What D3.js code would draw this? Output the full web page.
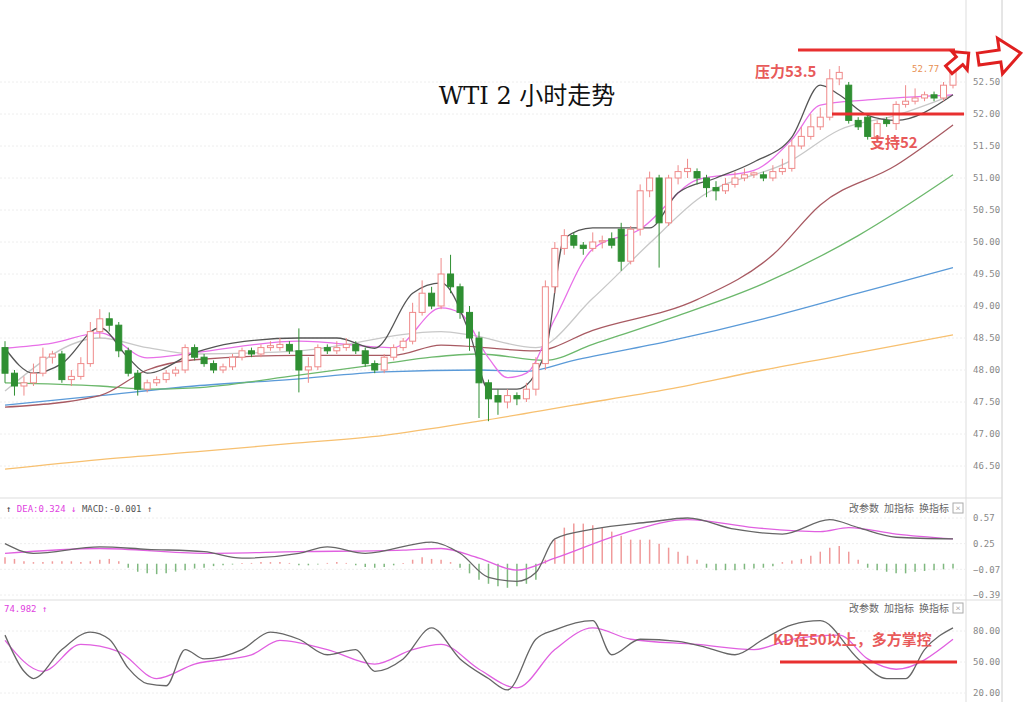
<!DOCTYPE html>
<html><head><meta charset="utf-8">
<script src="https://cdn.jsdelivr.net/npm/d3@7/dist/d3.min.js"></script>
<style>body{margin:0;background:#fff}svg{display:block}</style></head>
<body><svg id="c" width="1024" height="702"></svg>
<script>
// candles [open, high, low, close]
const candles=[[48.35,48.45,47.8,47.95],[47.95,48.0,47.6,47.75],[47.75,47.9,47.6,47.8],[47.8,48.1,47.75,47.95],[47.95,48.35,47.9,48.2],[48.2,48.3,48.1,48.25],[48.25,48.3,47.8,47.85],[47.85,48.0,47.75,47.9],[47.9,48.2,47.85,48.1],[48.1,48.75,48.05,48.6],
[48.6,48.95,48.5,48.8],[48.8,48.9,48.6,48.7],[48.7,48.75,48.2,48.3],[48.3,48.35,47.9,47.95],[47.95,48.0,47.6,47.7],[47.7,47.85,47.65,47.8],[47.8,47.9,47.75,47.85],[47.85,48.0,47.8,47.95],[47.95,48.05,47.9,48.0],[48.0,48.4,47.95,48.35],
[48.35,48.4,48.15,48.2],[48.2,48.25,48.05,48.1],[48.1,48.15,47.95,48.0],[48.0,48.1,47.95,48.05],[48.05,48.25,48.0,48.2],[48.2,48.35,48.15,48.3],[48.3,48.35,48.2,48.25],[48.25,48.4,48.2,48.35],[48.35,48.45,48.3,48.38],[48.35,48.5,48.3,48.4],
[48.4,48.45,48.25,48.3],[48.3,48.65,47.65,48.0],[48.0,48.2,47.8,48.05],[48.05,48.4,48.0,48.35],[48.35,48.4,48.25,48.3],[48.3,48.45,48.25,48.35],[48.35,48.5,48.3,48.4],[48.4,48.45,48.25,48.3],[48.3,48.35,48.05,48.1],[48.1,48.15,47.95,48.0],
[48.0,48.25,47.95,48.2],[48.2,48.4,48.15,48.35],[48.35,48.5,48.3,48.45],[48.45,49.05,48.4,48.9],[48.9,49.4,48.85,49.2],[49.2,49.3,48.95,49.0],[49.0,49.75,48.95,49.5],[49.5,49.8,49.2,49.3],[49.3,49.35,48.8,48.9],[48.9,49.0,48.3,48.5],
[48.5,48.6,47.25,47.8],[47.8,47.85,47.2,47.55],[47.6,47.7,47.3,47.5],[47.5,47.7,47.4,47.6],[47.6,47.65,47.45,47.55],[47.55,47.8,47.5,47.7],[47.7,48.2,47.6,48.1],[48.1,49.4,48.0,49.3],[49.3,50.0,49.2,49.9],[49.9,50.2,49.8,50.1],
[50.1,50.15,49.9,49.95],[49.95,50.0,49.8,49.9],[49.9,50.15,49.85,50.0],[50.0,50.1,49.9,50.02],[50.05,50.15,49.9,49.95],[50.2,50.3,49.55,49.7],[49.7,50.25,49.65,50.2],[50.2,50.9,50.1,50.8],[50.8,51.1,50.7,51.0],[51.0,51.05,49.6,50.3],
[50.3,51.05,50.25,51.0],[51.0,51.2,50.9,51.1],[51.1,51.3,51.0,51.15],[51.1,51.15,50.9,51.0],[51.0,51.05,50.7,50.85],[50.85,50.95,50.65,50.8],[50.8,51.0,50.75,50.9],[50.9,51.1,50.85,51.0],[51.0,51.15,50.95,51.05],[51.05,51.1,51.0,51.08],
[51.05,51.1,50.95,51.0],[51.0,51.2,50.95,51.1],[51.1,51.3,51.05,51.15],[51.15,51.6,51.1,51.5],[51.5,51.8,51.45,51.65],[51.65,52.0,51.6,51.8],[51.8,52.1,51.75,51.95],[51.95,52.7,51.9,52.55],[52.55,52.75,52.45,52.65],[52.45,52.5,51.85,51.9],
[51.9,51.95,51.75,51.8],[51.95,52.0,51.6,51.65],[51.65,51.9,51.6,51.85],[51.9,51.95,51.8,51.85],[51.85,52.2,51.75,52.15],[52.15,52.45,52.1,52.2],[52.2,52.4,52.15,52.25],[52.25,52.35,52.2,52.3],[52.3,52.35,52.2,52.25],[52.25,52.5,52.2,52.45],
[52.45,52.8,52.4,52.75]];
// moving averages [candle index, price]
const maBlack=[[0,48.34],[3,47.95],[6,48.1],[10,48.66],[13,48.19],[15,47.95],[20,48.27],[24,48.42],[31,48.5],[35,48.5],[39,48.34],[43,49.2],[46,49.36],[49,48.58],[51,47.7],[54,47.7],[57,48.27],[59,50.06],[62,50.22],[68,50.22],[71,50.77],[75,51.0],[79,51.25],[83,51.64],[86,52.45],[88,52.3],[91,51.98],[94,51.9],[100,52.3]];
const maPink=[[0,48.34],[5,48.42],[10,48.58],[15,48.19],[20,48.27],[31,48.45],[41,48.35],[46,48.97],[48,48.89],[51,48.19],[53,47.88],[55,47.95],[58,48.8],[62,49.89],[67,50.2],[73,50.97],[79,51.12],[83,51.6],[86,52.14],[91,52.22],[100,52.3]];
const maGrey=[[0,47.67],[10,48.5],[15,48.35],[20,48.25],[31,48.3],[46,48.6],[49,48.55],[56,48.35],[62,49.12],[68,49.98],[73,50.66],[83,51.28],[88,51.75],[94,51.98],[100,52.3]];
const maBrown=[[0,47.42],[10,47.6],[15,48.0],[20,48.16],[31,48.23],[41,48.23],[46,48.39],[56,48.3],[62,48.62],[73,49.1],[81,49.8],[86,50.58],[94,51.2],[100,51.83]];
const maGreen=[[0,47.8],[10,47.75],[15,47.7],[20,47.72],[30,47.9],[40,48.1],[45,48.2],[50,48.25],[57,48.15],[62,48.4],[70,48.8],[80,49.35],[90,50.1],[100,51.05]];
const maBlue=[[0,47.45],[10,47.6],[20,47.75],[30,47.85],[40,47.97],[50,48.0],[55,47.98],[60,48.15],[70,48.45],[80,48.8],[90,49.2],[100,49.6]];
const maOrange=[[0,46.45],[10,46.6],[20,46.72],[30,46.85],[40,46.98],[50,47.2],[60,47.45],[70,47.7],[80,48.0],[90,48.27],[100,48.55]];
const priceTicks=[46.5,47,47.5,48,48.5,49,49.5,50,50.5,51,51.5,52,52.5];
const macdHist=[0.08,0.06,0.03,0.02,0.02,0.03,0.03,0.03,0.02,0.03,0.05,0.06,0.03,-0.05,-0.1,-0.12,-0.13,-0.12,-0.1,-0.08,-0.06,-0.05,-0.03,-0.02,-0.01,0.01,0.01,0.02,0.02,0.02,0.01,-0.02,-0.02,-0.01,0.01,0.02,0.01,-0.02,-0.04,-0.05,-0.04,-0.02,0.01,0.05,0.08,0.06,0.05,0.02,-0.05,-0.12,-0.2,-0.25,-0.28,-0.3,-0.28,-0.25,-0.2,0.05,0.3,0.45,0.5,0.5,0.48,0.45,0.4,0.35,0.3,0.3,0.3,0.25,0.2,0.15,0.1,0.05,-0.05,-0.08,-0.08,-0.08,-0.07,-0.06,-0.05,-0.03,0.02,0.04,0.06,0.1,0.15,0.2,0.22,0.15,0.05,-0.05,-0.08,-0.1,-0.12,-0.12,-0.1,-0.09,-0.08,-0.07,-0.06];
const macdDif=[[0,0.25],[3,0.13],[10,0.21],[15,0.18],[21,0.15],[25,0.07],[31,0.13],[34,0.21],[38,0.13],[45,0.27],[48,0.13],[51,-0.17],[54,-0.22],[56,-0.11],[58,0.31],[62,0.43],[68,0.52],[72,0.57],[77,0.43],[82,0.37],[87,0.55],[90,0.45],[94,0.33],[100,0.31]];
const macdDea=[[0,0.13],[10,0.19],[21,0.13],[31,0.15],[42,0.17],[46,0.19],[50,0.07],[54,-0.08],[58,0.07],[65,0.37],[72,0.55],[79,0.45],[86,0.4],[89,0.45],[94,0.37],[100,0.31]];
const macdTicks=[0.57,0.25,-0.07,-0.39];
const kdK=[[0,76],[2,41],[3,34],[6,62],[9,79],[11,72],[13,44],[15,29],[17,27],[19,62],[21,53],[25,62],[28,79],[31,72],[34,57],[37,62],[39,41],[42,53],[45,83],[48,53],[51,34],[53,23],[56,72],[58,81],[62,90],[64,57],[67,72],[71,70],[74,64],[77,57],[80,72],[83,86],[86,90],[90,53],[93,34],[95,34],[97,62],[100,83]];
const kdD=[[0,71],[4,41],[8,67],[12,60],[16,34],[20,48],[26,57],[29,71],[34,62],[39,48],[43,62],[46,67],[50,43],[54,25],[58,62],[62,83],[66,72],[73,67],[79,62],[83,72],[88,76],[91,53],[94,43],[100,72]];
const kdTicks=[80,50,20];
const resistanceLevel=53.0, supportLevel=52.0;

const svg=d3.select("#c");
const x=d3.scaleLinear().domain([0,100]).range([5,953]);
const y=d3.scaleLinear().domain([46.5,52.5]).range([466,82]);
const ym=d3.scaleLinear().domain([-0.39,0.57]).range([595,518]);
const yk=d3.scaleLinear().domain([20,80]).range([693,631]);
svg.append("line").attr("x1",966).attr("x2",966).attr("y1",0).attr("y2",702).attr("stroke","#ddd");
svg.append("line").attr("x1",1002).attr("x2",1002).attr("y1",0).attr("y2",702).attr("stroke","#ccc");
[498,600].forEach(v=>svg.append("line").attr("x1",0).attr("x2",1002).attr("y1",v).attr("y2",v).attr("stroke","#ddd"));
const g=svg.append("g");
const grid=(sc,ticks)=>ticks.forEach(t=>g.append("line").attr("x1",0).attr("x2",966).attr("y1",sc(t)).attr("y2",sc(t)).attr("stroke","#eee").attr("stroke-dasharray","2,2"));
grid(y,priceTicks);grid(ym,macdTicks);grid(yk,kdTicks);
const ax=svg.append("g").attr("transform","translate(970,0)").call(d3.axisRight(y).tickValues(priceTicks).tickFormat(d3.format(".2f")).tickSize(0));
const ax2=svg.append("g").attr("transform","translate(970,0)").call(d3.axisRight(ym).tickValues(macdTicks).tickFormat(d3.format(".2f")).tickSize(0));
const ax3=svg.append("g").attr("transform","translate(970,0)").call(d3.axisRight(yk).tickValues(kdTicks).tickFormat(d3.format(".2f")).tickSize(0));
[ax,ax2,ax3].forEach(a=>{a.select(".domain").remove();a.selectAll("text").attr("fill","#888").attr("font-size",9).attr("font-family","DejaVu Sans Mono");});
const line=d3.line().x(d=>x(d[0])).y(d=>y(d[1])).curve(d3.curveMonotoneX);
[[maOrange,"#f7c070"],[maBlue,"#5a9ad8"],[maGreen,"#6cb86c"],[maBrown,"#a85a62"],[maGrey,"#c8c8c8"],[maPink,"#e870e8"],[maBlack,"#555"]].forEach(([d,c])=>{
 svg.append("path").attr("d",line(d)).attr("fill","none").attr("stroke",c).attr("stroke-width",1.3);
});
const cw=6;
candles.forEach((c,i)=>{
 const [o,h,l,cl]=c, up=cl>=o, col=up?"#ef8a8a":"#2f8f32";
 const cx=x(i);
 svg.append("line").attr("x1",cx).attr("x2",cx).attr("y1",y(h)).attr("y2",y(l)).attr("stroke",col).attr("stroke-width",1);
 const top=y(Math.max(o,cl)),bh=Math.max(1,Math.abs(y(o)-y(cl)));
 svg.append("rect").attr("x",cx-cw/2).attr("y",top).attr("width",cw).attr("height",bh).attr("fill",up?"#fff":col).attr("stroke",col).attr("stroke-width",1);
});
macdHist.forEach((v,i)=>{
 svg.append("line").attr("x1",x(i)).attr("x2",x(i)).attr("y1",ym(0)).attr("y2",ym(v)).attr("stroke",v>=0?"#f09a9a":"#7fb87f").attr("stroke-width",1.5);
});
const ml=d3.line().x(d=>x(d[0])).y(d=>ym(d[1])).curve(d3.curveMonotoneX);
svg.append("path").attr("d",ml(macdDea)).attr("fill","none").attr("stroke","#e060e0").attr("stroke-width",1.3);
svg.append("path").attr("d",ml(macdDif)).attr("fill","none").attr("stroke","#666").attr("stroke-width",1.3);
const kl=d3.line().x(d=>x(d[0])).y(d=>yk(d[1])).curve(d3.curveMonotoneX);
svg.append("path").attr("d",kl(kdD)).attr("fill","none").attr("stroke","#e060e0").attr("stroke-width",1.3);
svg.append("path").attr("d",kl(kdK)).attr("fill","none").attr("stroke","#666").attr("stroke-width",1.3);
const t1=svg.append("text").attr("x",6).attr("y",512).attr("font-size",9).attr("font-family","DejaVu Sans Mono");
t1.append("tspan").attr("fill","#333").text("↑ ");
t1.append("tspan").attr("fill","#e040e0").text("DEA:0.324 ↓ ");
t1.append("tspan").attr("fill","#555").text("MACD:-0.001 ↑");
svg.append("text").attr("x",4).attr("y",612).attr("font-size",9).attr("font-family","DejaVu Sans Mono").attr("fill","#e040e0").text("74.982 ↑");
[512,612].forEach(yy=>{
 ["改参数","加指标","换指标"].forEach((s,k)=>svg.append("text").attr("x",849+k*35).attr("y",yy).attr("font-size",10).attr("fill","#666").attr("font-family","Noto Sans CJK SC").text(s));
 svg.append("rect").attr("x",953).attr("y",yy-9).attr("width",10).attr("height",10).attr("fill","none").attr("stroke","#aaa");
 svg.append("text").attr("x",958).attr("y",yy-1).attr("text-anchor","middle").attr("font-size",9).attr("fill","#888").text("×");
});
svg.append("text").attr("x",527).attr("y",104).attr("text-anchor","middle").attr("font-size",24).attr("font-family","DejaVu Serif, Noto Sans CJK SC").attr("fill","#111").text("WTI 2 小时走势");
svg.append("line").attr("x1",798).attr("x2",955).attr("y1",y(resistanceLevel)).attr("y2",y(resistanceLevel)).attr("stroke","#e83030").attr("stroke-width",3);
svg.append("line").attr("x1",832).attr("x2",964).attr("y1",y(supportLevel)).attr("y2",y(supportLevel)).attr("stroke","#e83030").attr("stroke-width",3);
svg.append("text").attr("x",755).attr("y",77).attr("font-size",15).attr("font-weight","bold").attr("fill","#e85a5a").attr("font-family","Noto Sans CJK SC").text("压力53.5");
svg.append("text").attr("x",870).attr("y",148).attr("font-size",15).attr("font-weight","bold").attr("fill","#e85a5a").attr("font-family","Noto Sans CJK SC").text("支持52");
svg.append("text").attr("x",912).attr("y",72).attr("font-size",9).attr("fill","#e89050").attr("font-family","DejaVu Sans Mono").text("52.77");
svg.append("text").attr("x",773).attr("y",645).attr("font-size",15).attr("font-weight","bold").attr("fill","#e85a5a").attr("font-family","Noto Sans CJK SC").text("KD在50以上，多方掌控");
svg.append("line").attr("x1",780).attr("x2",957).attr("y1",yk(50)).attr("y2",yk(50)).attr("stroke","#e83030").attr("stroke-width",3);
// arrows
svg.append("path").attr("d","M978,50 L1000,50 L1000,38 L1021,56 L1000,74 L1000,62 L978,62 Z").attr("fill","#fff").attr("stroke","#e02020").attr("stroke-width",3).attr("transform","rotate(-8,1000,56)");
svg.append("path").attr("d","M-12,-5 L2,-5 L2,-12 L14,0 L2,12 L2,5 L-12,5 Z").attr("fill","#fff").attr("stroke","#e02020").attr("stroke-width",3).attr("transform","translate(958,62) rotate(-40)");
</script></body></html>
